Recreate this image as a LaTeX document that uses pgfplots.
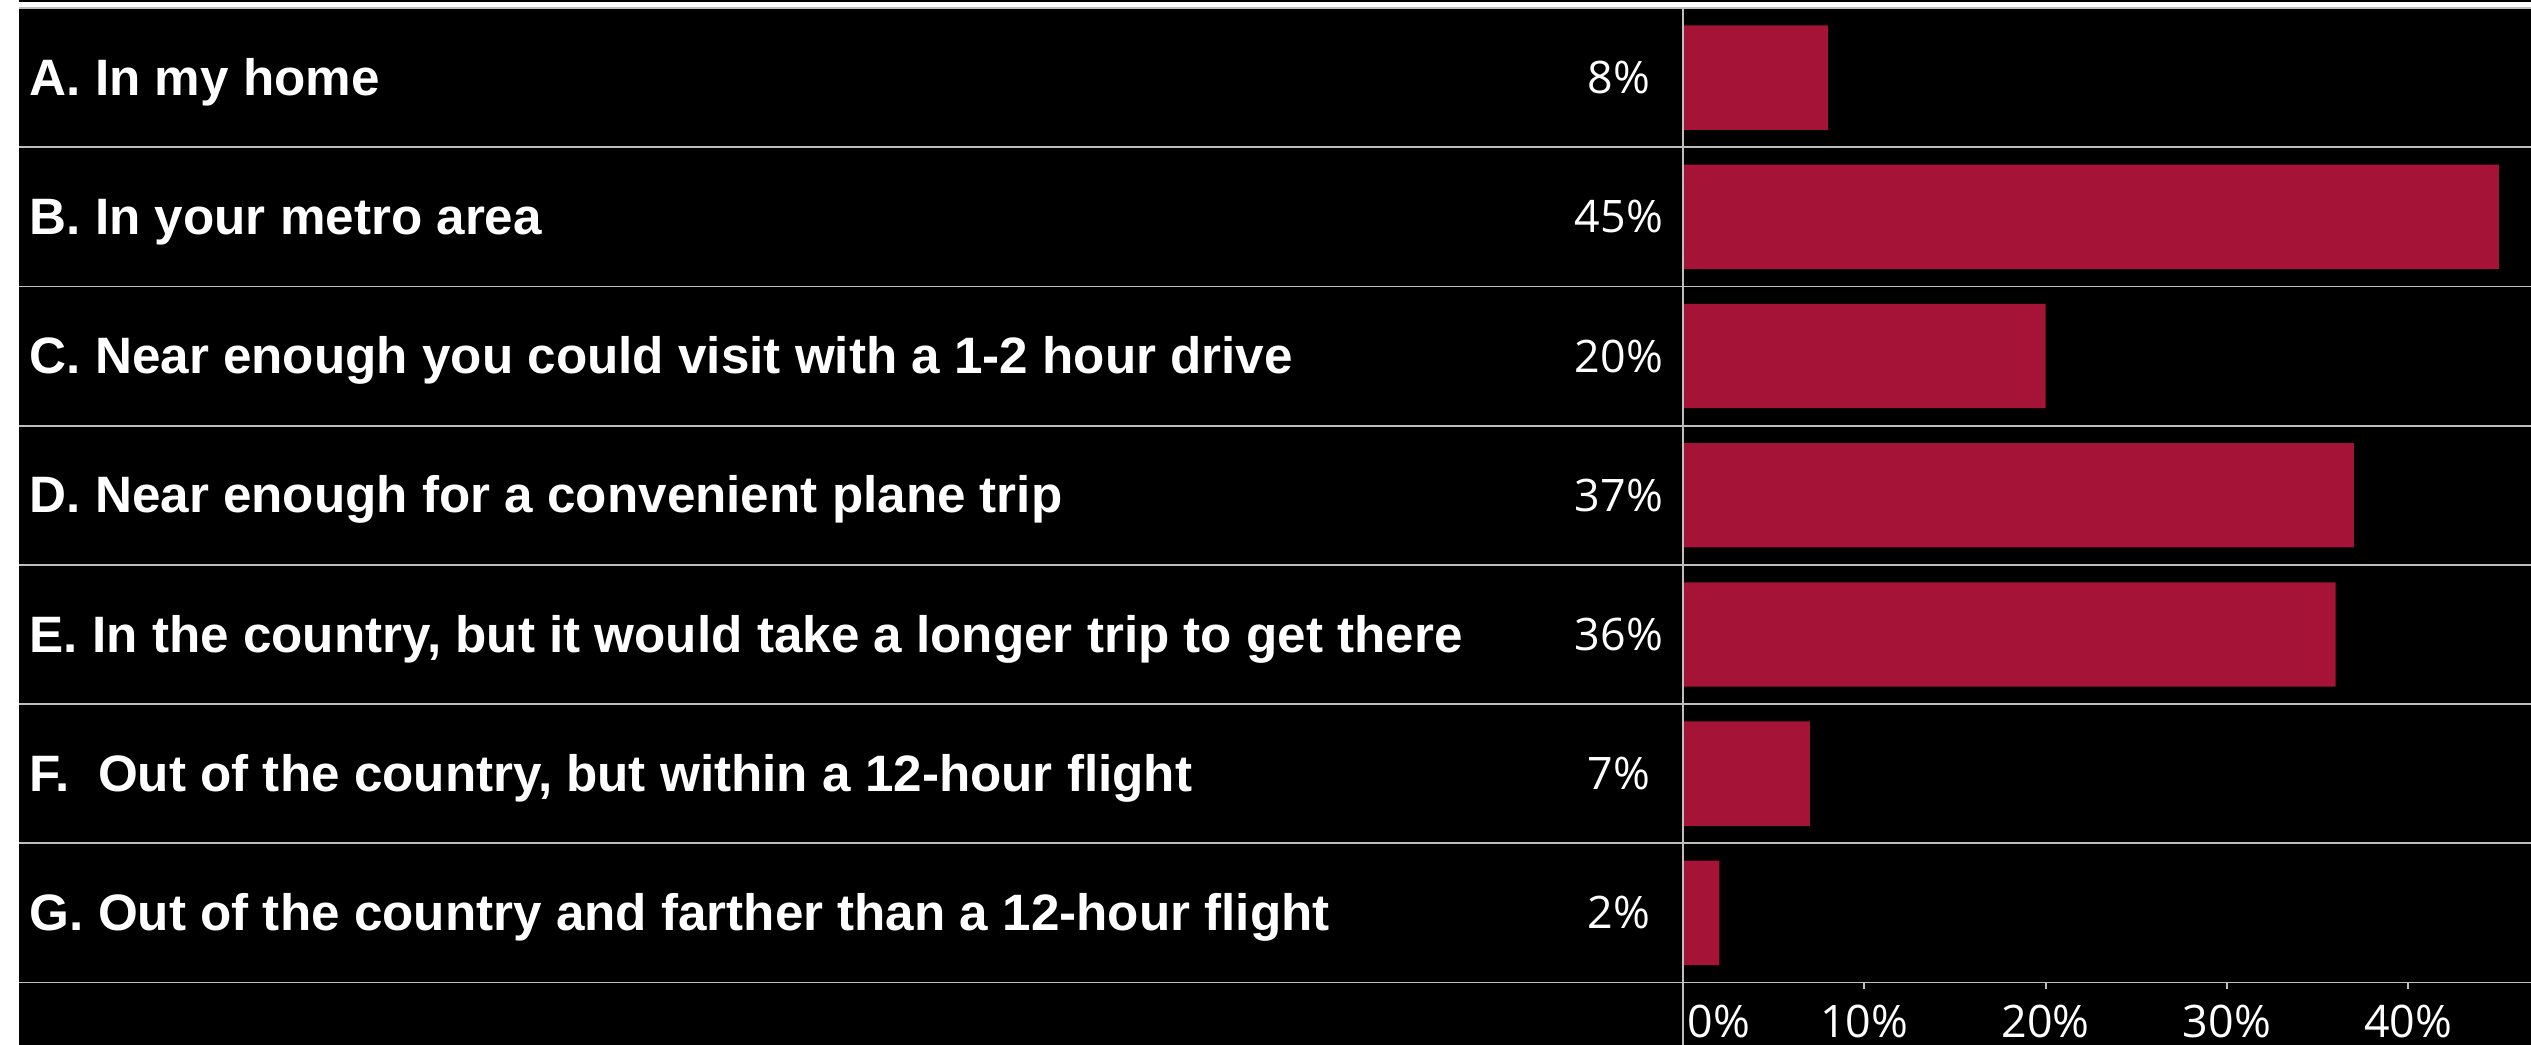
\documentclass[border=0pt]{standalone}
\usepackage{fontspec}
\setmainfont{Liberation Sans}
\newfontfamily\osans{Open Sans}
\usepackage{pgfplots}
\pgfplotsset{compat=1.18}
\definecolor{barred}{RGB}{165,19,54}
\definecolor{rulegray}{RGB}{190,190,190}

\begin{document}
\begin{tikzpicture}
% page: 1 px of the reference = 0.25pt
\fill[white] (0,0) rectangle (632.75pt,261.25pt);
\fill[black] (4.75pt,0) rectangle (632.75pt,261.25pt);
\fill[white] (4.75pt,259.4pt) rectangle (632.75pt,260.75pt);

\begin{axis}[
  at={(420.75pt,15.625pt)}, anchor=south west,
  scale only axis, width=212pt, height=243.625pt,
  xmin=0, xmax=46.77, ymin=-0.5, ymax=6.5,
  axis lines=left, axis line style={draw=none},
  clip=false,
  tick align=outside, major tick length=1.75pt,
  x tick style={rulegray, line width=0.45pt},
  y tick style={draw=none},
  xtick={10,20,30,40}, xticklabels={10\%,20\%,30\%,40\%},
  extra x ticks={0}, extra x tick labels={0\%},
  extra x tick style={xticklabel style={anchor=north west, xshift=0.9pt}},
  xticklabel style={anchor=north, inner sep=0pt, yshift=-3.8pt,
    font=\osans\fontsize{11.2}{13}\selectfont, text=white},
  ytick={0,1,2,3,4,5,6},
  yticklabels={
    G. Out of the country and farther than a 12-hour flight,
    {F.\ \ Out of the country, but within a 12-hour flight},
    {E. In the country, but it would take a longer trip to get there},
    D. Near enough for a convenient plane trip,
    C. Near enough you could visit with a 1-2 hour drive,
    B. In your metro area,
    A. In my home},
  yticklabel style={anchor=base west, inner sep=0pt, xshift=-411.75pt,
    yshift=-4.4pt, font=\bfseries\fontsize{12.8}{15}\selectfont, text=white},
]
  \addplot[xbar, bar width=0.75, fill=barred, draw=none]
    coordinates {(8,6) (45,5) (20,4) (37,3) (36,2) (7,1) (2,0)};
  \addplot[draw=none, mark=none, point meta=explicit symbolic,
    nodes near coords={\pgfplotspointmeta\%},
    nodes near coords style={anchor=base, inner sep=0pt, xshift=-16pt,
      yshift=-4pt, font=\osans\fontsize{11.2}{13}\selectfont, text=white}]
    coordinates {(0,6)[8] (0,5)[45] (0,4)[20] (0,3)[37] (0,2)[36] (0,1)[7] (0,0)[2]};
\end{axis}

\foreach \k in {0,...,7}
  \draw[rulegray, line width=0.45pt] (4.75pt,{15.625pt+\k*34.8036pt}) -- (632.75pt,{15.625pt+\k*34.8036pt});
\draw[rulegray, line width=0.45pt] (420.75pt,0) -- (420.75pt,259.25pt);

\pgfresetboundingbox
\path[use as bounding box] (0,0) rectangle (632.75pt,261.25pt);
\end{tikzpicture}
\end{document}
